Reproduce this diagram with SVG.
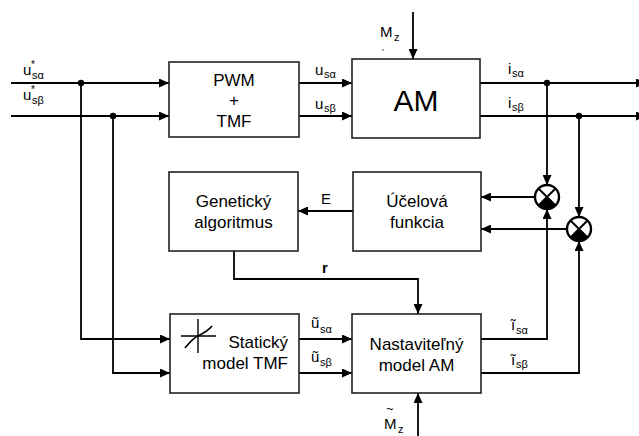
<svg xmlns="http://www.w3.org/2000/svg" width="639" height="436" viewBox="0 0 639 436">
<style>
.box{fill:#fff;stroke:#222;stroke-width:1.6}
.ln{fill:none;stroke:#000;stroke-width:1.8}
.arr{marker-end:url(#ah)}
text{font-family:"Liberation Sans",Arial,sans-serif;fill:#000}
.bt{font-size:17px;text-anchor:middle}
.lb{font-size:15px}
.sb{font-size:11px}
.st{font-size:10px}
.dot{fill:#000}
.sum{fill:#fff;stroke:#000;stroke-width:2.4}
</style>
<defs>
<marker id="ah" markerUnits="userSpaceOnUse" markerWidth="10" markerHeight="9" refX="10" refY="4.5" orient="auto">
<path d="M0,0 L10,4.5 L0,9 Z" fill="#000"/>
</marker>
</defs>

<g id="connectors">
<path class="ln arr" d="M11,83 H169"/>
<path class="ln arr" d="M11,116 H169"/>
<path class="ln arr" d="M81,83 V339 H170"/>
<path class="ln arr" d="M113,116 V373 H170"/>
<path class="ln arr" d="M299,83 H352"/>
<path class="ln arr" d="M299,116 H352"/>
<path class="ln arr" d="M413,12 V59"/>
<path class="ln arr" d="M480,83 H646"/>
<path class="ln arr" d="M480,116 H646"/>
<path class="ln arr" d="M547,83 V185"/>
<path class="ln arr" d="M579,116 V217"/>
<path class="ln arr" d="M535,197 H481"/>
<path class="ln arr" d="M567,229 H481"/>
<path class="ln arr" d="M353,211 H298"/>
<path class="ln arr" d="M234,251 V279 H418 V314"/>
<path class="ln arr" d="M299,339 H352"/>
<path class="ln arr" d="M299,373 H352"/>
<path class="ln arr" d="M481,339 H547 V209"/>
<path class="ln arr" d="M481,373 H579 V241"/>
<path class="ln arr" d="M418,436 V393"/>
<circle class="dot" cx="81" cy="83" r="3.2"/>
<circle class="dot" cx="113" cy="116" r="3.2"/>
<circle class="dot" cx="547" cy="83" r="3.2"/>
<circle class="dot" cx="579" cy="116" r="3.2"/>
</g>

<g id="labels">
<text class="lb" x="23" y="75">u</text><text class="st" x="31" y="68">*</text><text class="sb" x="32" y="79">sα</text>
<text class="lb" x="23" y="100">u</text><text class="st" x="31" y="93">*</text><text class="sb" x="32" y="104">sβ</text>
<text class="lb" x="315" y="75">u</text><text class="sb" x="324" y="78">sα</text>
<text class="lb" x="315" y="109">u</text><text class="sb" x="324" y="112">sβ</text>
<text class="lb" x="380" y="37">M</text><text class="sb" x="394" y="41">z</text>
<circle cx="383" cy="50" r="0.8" fill="#333"/>
<text class="lb" x="508" y="74">i</text><text class="sb" x="512" y="77">sα</text>
<text class="lb" x="508" y="108">i</text><text class="sb" x="512" y="111">sβ</text>
<text class="lb" x="321" y="204">E</text>
<text class="lb" x="322" y="273" font-weight="bold">r</text>
<text class="lb" x="311" y="328">ũ</text><text class="sb" x="320" y="333">sα</text>
<text class="lb" x="311" y="362">ũ</text><text class="sb" x="320" y="366">sβ</text>
<text class="lb" x="511" y="330">ĩ</text><text class="sb" x="516" y="334">sα</text>
<text class="lb" x="511" y="365">ĩ</text><text class="sb" x="516" y="368">sβ</text>
<text x="386" y="413" font-size="13">~</text>
<text class="lb" x="384" y="429">M</text><text class="sb" x="398" y="433">z</text>
</g>

<g id="pwm">
<rect class="box" x="169" y="62" width="130" height="75"/>
<text class="bt" x="234" y="86">PWM</text>
<text class="bt" x="234" y="106">+</text>
<text class="bt" x="234" y="127">TMF</text>
</g>

<g id="am">
<rect class="box" x="352" y="59" width="128" height="79"/>
<text x="416" y="111" font-size="30" text-anchor="middle">AM</text>
</g>

<g id="genetic">
<rect class="box" x="169" y="172" width="129" height="79"/>
<text class="bt" x="233.5" y="207">Genetický</text>
<text class="bt" x="233.5" y="228">algoritmus</text>
</g>

<g id="ucelova">
<rect class="box" x="353" y="172" width="128" height="79"/>
<text class="bt" x="417" y="207">Účelová</text>
<text class="bt" x="417" y="228">funkcia</text>
</g>

<g id="sum1">
<circle class="sum" cx="547" cy="197" r="12"/>
<path d="M538.5,188.5 L555.5,205.5 M555.5,188.5 L538.5,205.5" stroke="#000" stroke-width="2"/>
<path d="M547,197 L555.5,205.5 A12,12 0 0 1 538.5,205.5 Z" fill="#000"/>
</g>

<g id="sum2">
<circle class="sum" cx="579" cy="229" r="12"/>
<path d="M570.5,220.5 L587.5,237.5 M587.5,220.5 L570.5,237.5" stroke="#000" stroke-width="2"/>
<path d="M579,229 L587.5,237.5 A12,12 0 0 1 570.5,237.5 Z" fill="#000"/>
</g>

<g id="staticky">
<rect class="box" x="170" y="314" width="129" height="79"/>
<path d="M198,319 V353 M181,336 H216" stroke="#000" stroke-width="1.4" fill="none"/>
<path d="M185,348 C190,342 193,338 198,336 C204,333 208,331 212,326" stroke="#000" stroke-width="1.6" fill="none"/>
<text class="bt" x="288" y="348" style="text-anchor:end">Statický</text>
<text class="bt" x="288" y="369" style="text-anchor:end">model TMF</text>
</g>

<g id="nastavitelny">
<rect class="box" x="352" y="314" width="129" height="79"/>
<text class="bt" x="416.5" y="350">Nastaviteľný</text>
<text class="bt" x="416.5" y="371">model AM</text>
</g>
</svg>
